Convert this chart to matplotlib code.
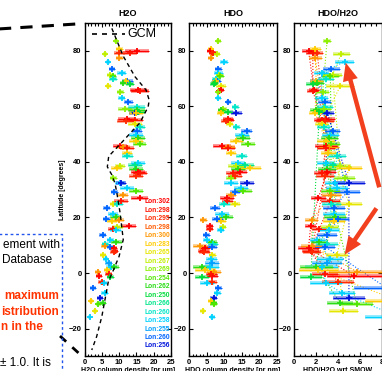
import matplotlib
matplotlib.use("Agg")
import matplotlib.pyplot as plt
import numpy as np
from matplotlib.ticker import MultipleLocator
from matplotlib.patches import FancyArrowPatch
from matplotlib.lines import Line2D

plt.rcParams['font.family'] = ['Liberation Sans', 'DejaVu Sans']

# ---------------- data ----------------
lon_labels = ["Lon:302", "Lon:298", "Lon:295", "Lon:298", "Lon:300", "Lon:283",
              "Lon:265", "Lon:267", "Lon:269", "Lon:254", "Lon:262", "Lon:250",
              "Lon:266", "Lon:260", "Lon:258", "Lon:255", "Lon:260", "Lon:256"]
lon_colors = ["#ff0000", "#ff1400", "#ff2800", "#ff5a00", "#ff9600", "#ffcc00",
              "#e6e600", "#c0f000", "#8cf000", "#50e600", "#28dc14", "#00dc3c",
              "#00e68c", "#00e6c8", "#00d2ff", "#00a0ff", "#0064ff", "#0014dc"]

lat = [83.5, 80.4, 80.0, 79.3, 79.0, 78.8, 77.4, 76.0, 73.3, 72.1, 71.3, 71.0, 69.8, 69.2,
       69.0, 68.5, 68.0, 67.2, 66.0, 65.5, 65.0, 63.0, 61.6, 59.7, 59.0, 58.8, 58.0, 57.7,
       57.5, 55.5, 55.0, 54.5, 53.5, 52.5, 51.2, 49.6, 48.4, 47.5, 46.4, 45.7, 45.2, 44.9,
       43.3, 42.0, 39.7, 38.9, 38.6, 37.7, 37.5, 36.5, 35.8, 35.0, 34.0, 32.5, 32.3, 30.5,
       29.5, 29.0, 28.0, 27.0, 25.8, 25.0, 24.7, 23.3, 21.2, 20.0, 19.4, 18.6, 19.2, 17.0,
       15.8, 16.6, 15.4, 13.5, 12.0, 11.0, 10.5, 9.8, 9.5, 8.9, 8.0, 7.5, 6.5, 4.9, 3.6,
       2.3, 2.0, 0.5, 1.0, -1.1, -0.3, -1.5, -3.1, -3.6, -5.5, -7.3, -9.0, -9.9, -10.7,
       -11.2, -13.5, -15.7]
series = [8, 5, 0, 1, 2, 7, 4, 14, 16, 14, 7, 9, 13, 16,
          5, 10, 11, 6, 0, 1, 8, 14, 16, 13, 8, 10, 11, 17,
          5, 0, 1, 2, 6, 13, 16, 14, 10, 5, 9, 0, 4, 1,
          5, 13, 14, 12, 7, 5, 10, 0, 1, 2, 8, 14, 17, 14,
          9, 16, 4, 0, 1, 6, 13, 16, 14, 10, 16, 5, 4, 0,
          1, 7, 14, 16, 14, 10, 13, 4, 16, 0, 1, 2, 6, 14, 15,
          14, 10, 4, 5, 0, 1, 11, 2, 14, 16, 14, 17, 5, 10,
          9, 6, 14]
h2o = [9.1, 10.1, 15.1, 13.1, 10.1, 5.9, 10.1, 6.9, 7.9, 10.7, 7.4, 8.2, 8.3, 12.4,
       12.0, 11.2, 13.1, 6.9, 15.6, 16.0, 10.3, 10.7, 12.7, 15.1, 11.6, 15.1, 15.4, 14.5,
       15.0, 12.2, 14.5, 12.0, 14.5, 16.0, 15.1, 14.8, 15.4, 14.8, 15.9, 10.3, 11.2, 12.2,
       12.2, 12.4, 15.4, 14.5, 10.3, 9.3, 15.0, 15.5, 16.0, 15.0, 8.3, 10.3, 10.5, 12.2,
       14.9, 8.6, 11.2, 15.9, 10.5, 8.3, 9.5, 6.4, 8.2, 9.0, 6.3, 8.0, 10.0, 12.8,
       8.2, 9.5, 9.0, 5.3, 7.5, 9.2, 6.0, 5.8, 7.5, 8.5, 8.8, 8.5, 5.4, 6.1, 7.0,
       7.8, 8.5, 3.8, 6.5, 4.2, 7.0, 7.5, 5.0, 5.5, 2.5, 5.8, 4.5, 2.0, 5.3,
       4.0, 3.0, 1.5]
h2o_err = [0.6, 1.0, 3.5, 2.0, 1.5, 0.6, 1.0, 0.6, 0.8, 1.3, 1.0, 1.0, 1.2, 1.5,
           1.0, 1.0, 1.2, 0.8, 2.5, 2.5, 1.0, 1.0, 1.2, 2.5, 2.0, 2.5, 2.0, 1.5,
           2.0, 2.5, 2.5, 2.5, 2.0, 1.5, 1.5, 2.0, 2.0, 2.0, 2.0, 2.0, 2.0, 2.0,
           1.5, 1.5, 2.0, 2.0, 1.5, 1.5, 2.0, 2.0, 2.0, 2.0, 1.0, 1.5, 1.5, 2.0,
           2.0, 1.0, 1.5, 2.5, 2.0, 1.0, 1.5, 1.0, 1.5, 1.5, 1.0, 1.5, 1.5, 2.0,
           1.5, 1.5, 1.5, 1.0, 1.0, 1.5, 1.0, 1.0, 1.0, 1.0, 1.0, 1.0, 0.8, 0.8, 1.0,
           1.5, 1.5, 0.8, 1.0, 0.8, 1.0, 1.0, 1.0, 1.0, 0.8, 1.0, 0.8, 0.6, 1.0,
           0.8, 0.6, 0.5]
hdo = [8.3, 6.1, 6.0, 6.9, 6.5, 7.9, 6.1, 10.0, 8.3, 8.3, 8.6, 8.9, 7.5, 7.9,
       7.5, 7.3, 7.0, 9.0, 9.0, 8.6, 8.3, 8.3, 11.2, 13.1, 9.7, 9.2, 11.0, 13.5,
       9.0, 11.0, 11.2, 10.5, 11.5, 13.5, 16.4, 15.2, 15.5, 13.5, 16.9, 9.3, 11.2, 11.2,
       12.0, 15.0, 14.0, 16.0, 13.5, 17.5, 14.0, 14.5, 12.5, 13.0, 12.0, 12.0, 16.4, 14.9,
       15.5, 13.0, 12.0, 10.9, 10.9, 13.0, 10.0, 7.3, 9.3, 10.5, 8.0, 9.0, 4.0, 5.8,
       5.8, 9.5, 9.0, 4.9, 5.0, 6.5, 6.8, 3.0, 6.5, 4.5, 4.0, 4.3, 6.6, 6.3, 6.6,
       6.0, 3.5, 7.0, 4.5, 6.6, 6.3, 3.5, 6.5, 5.0, 8.3, 8.0, 7.0, 6.3, 7.0,
       7.0, 3.8, 6.6]
hdo_err = [0.7, 0.8, 1.0, 1.0, 1.0, 1.0, 0.8, 1.2, 1.0, 1.2, 1.0, 1.0, 1.0, 1.3,
           1.0, 1.0, 1.0, 1.5, 0.8, 0.8, 0.8, 0.8, 0.8, 1.0, 1.0, 1.0, 1.5, 1.5,
           1.0, 1.5, 1.5, 1.5, 1.0, 1.0, 1.5, 2.0, 2.0, 2.0, 2.0, 2.5, 2.0, 2.0,
           1.5, 1.5, 2.0, 2.5, 2.5, 3.0, 2.0, 2.0, 2.0, 2.0, 1.5, 2.0, 2.0, 2.0,
           2.5, 1.5, 1.5, 2.0, 1.5, 1.5, 1.5, 1.5, 2.0, 2.0, 1.5, 1.5, 1.0, 1.0,
           1.0, 1.0, 1.0, 1.0, 1.0, 1.5, 1.5, 2.0, 1.5, 1.5, 1.5, 1.5, 1.0, 1.5, 2.0,
           2.5, 2.5, 2.0, 3.0, 1.5, 1.5, 2.0, 1.5, 2.0, 1.0, 1.0, 1.0, 1.0, 1.0,
           1.0, 0.8, 0.8]
ratio = [3.0, 1.9, 1.3, 1.7, 2.1, 4.3, 1.9, 4.6, 3.4, 2.5, 3.5, 3.3, 2.9, 2.0,
         2.0, 2.1, 1.7, 4.2, 1.8, 1.7, 2.6, 2.5, 2.8, 2.8, 2.7, 2.0, 2.3, 3.0,
         1.9, 2.9, 2.5, 2.8, 2.5, 2.7, 3.5, 3.3, 3.2, 2.9, 3.4, 2.9, 3.2, 2.9,
         3.1, 3.9, 2.9, 3.5, 4.2, 5.0, 3.0, 3.0, 2.5, 2.8, 4.6, 3.7, 5.0, 3.9,
         3.3, 4.8, 3.4, 2.2, 3.3, 5.0, 3.4, 3.6, 3.6, 3.7, 4.0, 3.6, 1.6, 1.5,
         2.3, 3.2, 3.2, 3.0, 2.1, 2.3, 3.0, 1.6, 2.8, 1.3, 1.5, 1.6, 3.9, 3.3, 3.0,
         2.5, 2.0, 5.7, 2.2, 5.5, 2.8, 1.5, 4.0, 2.9, 8.5, 4.4, 5.0, 9.5, 4.2,
         5.7, 4.5, 9.5]
ratio_err = [0.4, 0.5, 0.6, 0.6, 0.5, 0.8, 0.6, 0.9, 0.8, 0.7, 0.9, 0.8, 0.7, 0.6,
             0.6, 0.6, 0.6, 1.3, 0.5, 0.5, 0.6, 0.6, 0.6, 0.7, 0.7, 0.6, 0.6, 0.6,
             0.6, 0.8, 0.7, 0.8, 0.6, 0.6, 0.7, 0.8, 0.8, 0.8, 0.8, 1.0, 0.9, 0.8,
             0.7, 0.8, 0.8, 0.9, 1.0, 1.2, 0.8, 0.8, 0.7, 0.8, 1.0, 0.9, 1.5, 1.0,
             0.9, 1.2, 0.9, 0.7, 0.9, 1.2, 0.9, 1.0, 1.0, 1.0, 1.0, 1.0, 0.6, 0.5,
             0.7, 0.8, 0.9, 0.9, 0.7, 0.8, 1.0, 1.0, 0.9, 1.0, 0.8, 0.8, 1.0, 1.2, 1.4,
             1.5, 1.5, 2.5, 1.8, 2.5, 1.2, 1.0, 1.5, 1.5, 3.0, 1.2, 1.5, 3.0, 1.2,
             1.5, 1.3, 3.0]

gcm_lat = [88, 78, 70.6, 65.8, 62.2, 59.8, 54, 50, 46.6, 42, 38.2, 35.3, 32.3, 29.2,
           21.5, 12, 6, 0, -3, -9.7, -15.7, -22.9, -27.7]
gcm_h2o = [7.9, 11.2, 14.6, 17.8, 18.7, 18.4, 16, 13, 10.5, 7.0, 6.6, 7.9, 8.8, 9.3,
           10.3, 11.2, 10, 8, 6.9, 5.9, 5.0, 3.5, 2.1]

titles = ["H2O", "HDO", "HDO/H2O"]
xlabels = ["H2O column density [pr um]", "HDO column density [pr nm]", "HDO/H2O wrt SMOW"]

# ---------------- figure ----------------
W, H = 382, 371
fig = plt.figure(figsize=(W / 100, H / 100), dpi=100)

def fx(px):
    return px / W

def fy(py):
    return 1 - py / H

ax_top, ax_bot = 22.8, 356.4
lefts = [84.5, 189.3, 294.3]
widths = [86.5, 87.4, 87.4]
axes = []
for l, w in zip(lefts, widths):
    ax = fig.add_axes([fx(l), fy(ax_bot), w / W, (ax_bot - ax_top) / H])
    axes.append(ax)

lat_a = np.array(lat)
ser_a = np.array(series)
datasets = [(h2o, h2o_err), (hdo, hdo_err), (ratio, ratio_err)]

for k, ax in enumerate(axes):
    vals, errs = datasets[k]
    vals = np.array(vals)
    errs = np.array(errs)
    if k == 2:
        for s in range(len(lon_labels)):
            m = ser_a == s
            if m.sum() > 1:
                order = np.argsort(lat_a[m])
                ax.plot(vals[m][order], lat_a[m][order], ':', color=lon_colors[s],
                        lw=0.8, zorder=2)
    for i in range(len(lat_a)):
        c = lon_colors[ser_a[i]]
        ax.hlines(lat_a[i], vals[i] - errs[i], vals[i] + errs[i], colors=c,
                  lw=2.6, alpha=0.5, zorder=3)
        ax.hlines(lat_a[i], vals[i] - errs[i], vals[i] + errs[i], colors=c,
                  lw=0.7, zorder=4)
        ax.plot(vals[i], lat_a[i], '+', color=c, ms=5, mew=1.3, zorder=5)

    ax.set_ylim(-30, 90)
    ax.set_yticks([-20, 0, 20, 40, 60, 80])
    if k < 2:
        ax.set_xlim(0, 25)
        ax.xaxis.set_major_locator(MultipleLocator(5))
        ax.xaxis.set_minor_locator(MultipleLocator(1))
    else:
        ax.set_xlim(0, 8)
        ax.xaxis.set_major_locator(MultipleLocator(2))
        ax.xaxis.set_minor_locator(MultipleLocator(0.5))
    ax.tick_params(axis='both', which='both', direction='in', top=True, right=True,
                   labelsize=5.5, pad=2, width=0.8)
    ax.tick_params(axis='both', which='major', length=3)
    ax.tick_params(axis='both', which='minor', length=1.8)
    for lab in ax.get_xticklabels() + ax.get_yticklabels():
        lab.set_fontweight('bold')
    for sp in ax.spines.values():
        sp.set_linewidth(1.0)
    ax.set_title(titles[k], fontsize=6.5, fontweight='bold', pad=5)
    ax.set_xlabel(xlabels[k], fontsize=5, fontweight='bold', labelpad=0.5)

# GCM line and its key
ax1 = axes[0]
ax1.plot(gcm_h2o, gcm_lat, color='black', ls=(0, (3, 2.5)), lw=1.0, zorder=6)
ax1.add_line(Line2D([0.09, 0.47], [0.966, 0.966], transform=ax1.transAxes,
                    color='black', ls=(0, (3, 3)), lw=1.2))
ax1.text(0.5, 0.966, "GCM", transform=ax1.transAxes, fontsize=9, va='center', ha='left')
ax1.set_ylabel("Latitude [degrees]", fontsize=5, fontweight='bold', labelpad=2)

# longitude key
for i, (lab, c) in enumerate(zip(lon_labels, lon_colors)):
    ax1.text(0.69, 0.463 - i * 0.0254, lab, transform=ax1.transAxes, color=c,
             fontsize=4.8, fontweight='bold', va='center', ha='left')

# arrows in ratio panel
arrow_col = '#f2401e'
for (x0, y0), (x1, y1) in [((380, 190), (345, 60)), ((378, 206), (343, 257))]:
    fig.patches.append(FancyArrowPatch((fx(x0), fy(y0)), (fx(x1), fy(y1)),
                                       transform=fig.transFigure, color=arrow_col,
                                       lw=0, arrowstyle='simple,head_length=1.3,head_width=1.1,tail_width=0.32',
                                       mutation_scale=10, zorder=10))

# callout dashed lines
fig.add_artist(Line2D([fx(-2), fx(84)], [fy(29), fy(23.5)], color='black', lw=2.2,
                      ls=(0, (4, 3))))
fig.add_artist(Line2D([fx(60), fx(84)], [fy(336), fy(358)], color='black', lw=2.0,
                      ls=(0, (3, 3))))

# partial slide text box on the left
fig.add_artist(Line2D([fx(-2), fx(62), fx(62)], [fy(234), fy(234), fy(373)],
                      color='#2255ee', lw=1.0, ls=(0, (2, 2))))
txt = [("ement with", 60, 245, 'black', 'normal'),
       ("Database", 52, 260, 'black', 'normal'),
       ("maximum", 59, 296, '#ff3300', 'bold'),
       ("istribution", 59, 312, '#ff3300', 'bold'),
       ("n in the", 43, 327, '#ff3300', 'bold'),
       ("\u00b1 1.0. It is", 51, 363, 'black', 'normal')]
for s, x, y, c, wgt in txt:
    fig.text(fx(x), fy(y), s, ha='right', va='center', fontsize=8.5, color=c,
             fontweight=wgt)

fig.savefig("out.png", dpi=100)
